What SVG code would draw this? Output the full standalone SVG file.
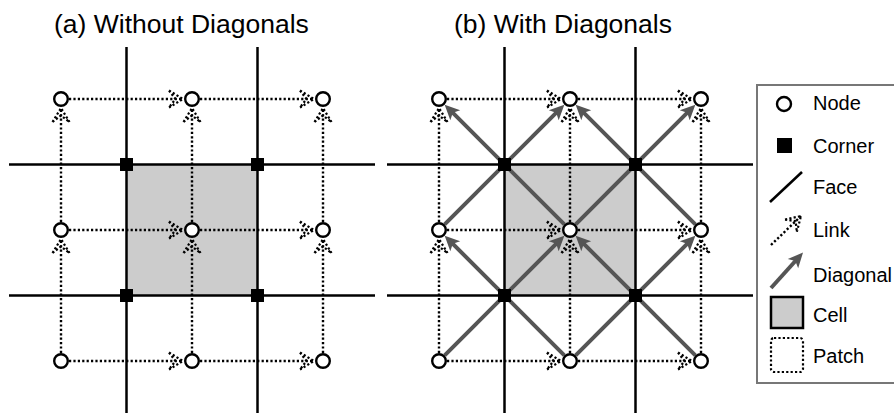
<svg xmlns="http://www.w3.org/2000/svg" width="894" height="413" viewBox="0 0 894 413">
<style>
.title{font-family:"Liberation Sans",Arial,sans-serif;font-size:26.5px;fill:#000}
.lt{font-family:"Liberation Sans",Arial,sans-serif;font-size:20px;fill:#000}
.face{stroke:#000;stroke-width:2.5;fill:none}
.cell{fill:#cccccc;stroke:none}
.link{stroke:#000;stroke-width:2.4;stroke-dasharray:2.2 2.2;fill:none}
.diag{stroke:#555;stroke-width:4;fill:none}
.node{fill:#fff;stroke:#000;stroke-width:2.4}
.corner{fill:#000}
</style>
<defs>
<marker id="lk" viewBox="-16 -11 18 22" markerWidth="18" markerHeight="22" refX="0" refY="0" orient="auto" markerUnits="userSpaceOnUse">
<path d="M-14,-8.5 L0,0 L-14,8.5 M-14,-8.5 L-7.5,0 L-14,8.5" stroke="#000" stroke-width="2.2" stroke-dasharray="2.2 2.2" fill="none"/>
</marker>
<marker id="dg" viewBox="-10 -9 18 18" markerWidth="18" markerHeight="18" refX="0" refY="0" orient="auto" markerUnits="userSpaceOnUse">
<path d="M6,0 L-9,-7 L-5.5,0 L-9,7 Z" fill="#555"/>
</marker>
</defs>

<g id="titles">
<text class="title" x="54" y="33">(a) Without Diagonals</text>
<text class="title" x="454" y="33">(b) With Diagonals</text>
</g>

<g id="cells">
<rect id="cell-a" class="cell" x="126.5" y="164.5" width="131" height="131"/>
<rect id="cell-b" class="cell" x="504.5" y="164.5" width="131" height="131"/>
</g>

<g id="faces">
<line class="face" x1="126.5" y1="47" x2="126.5" y2="413"/>
<line class="face" x1="257.5" y1="47" x2="257.5" y2="413"/>
<line class="face" x1="9" y1="164.5" x2="375" y2="164.5"/>
<line class="face" x1="9" y1="295.5" x2="375" y2="295.5"/>
<line class="face" x1="504.5" y1="47" x2="504.5" y2="413"/>
<line class="face" x1="635.5" y1="47" x2="635.5" y2="413"/>
<line class="face" x1="387" y1="164.5" x2="753" y2="164.5"/>
<line class="face" x1="387" y1="295.5" x2="753" y2="295.5"/>
</g>

<g id="connectors">
<g id="links-a" marker-end="url(#lk)">
<path class="link" d="M69,99 L183,99"/>
<path class="link" d="M200,99 L314,99"/>
<path class="link" d="M69,230 L183,230"/>
<path class="link" d="M200,230 L314,230"/>
<path class="link" d="M69,361 L183,361"/>
<path class="link" d="M200,361 L314,361"/>
<path class="link" d="M61,353 L61,239"/>
<path class="link" d="M61,222 L61,108"/>
<path class="link" d="M192,353 L192,239"/>
<path class="link" d="M192,222 L192,108"/>
<path class="link" d="M323,353 L323,239"/>
<path class="link" d="M323,222 L323,108"/>
</g>
<g id="links-b" marker-end="url(#lk)">
<path class="link" d="M447,99 L561,99"/>
<path class="link" d="M578,99 L692,99"/>
<path class="link" d="M447,230 L561,230"/>
<path class="link" d="M578,230 L692,230"/>
<path class="link" d="M447,361 L561,361"/>
<path class="link" d="M578,361 L692,361"/>
<path class="link" d="M439,353 L439,239"/>
<path class="link" d="M439,222 L439,108"/>
<path class="link" d="M570,353 L570,239"/>
<path class="link" d="M570,222 L570,108"/>
<path class="link" d="M701,353 L701,239"/>
<path class="link" d="M701,222 L701,108"/>
</g>
<g id="diagonals-b" marker-end="url(#dg)">
<path class="diag" d="M444.66,355.34 L560.1,239.9"/>
<path class="diag" d="M564.34,355.34 L448.9,239.9"/>
<path class="diag" d="M575.66,355.34 L691.1,239.9"/>
<path class="diag" d="M695.34,355.34 L579.9,239.9"/>
<path class="diag" d="M444.66,224.34 L560.1,108.9"/>
<path class="diag" d="M564.34,224.34 L448.9,108.9"/>
<path class="diag" d="M575.66,224.34 L691.1,108.9"/>
<path class="diag" d="M695.34,224.34 L579.9,108.9"/>
</g>
</g>

<g id="corners">
<rect class="corner" x="120" y="158" width="13" height="13"/>
<rect class="corner" x="251" y="158" width="13" height="13"/>
<rect class="corner" x="120" y="289" width="13" height="13"/>
<rect class="corner" x="251" y="289" width="13" height="13"/>
<rect class="corner" x="498" y="158" width="13" height="13"/>
<rect class="corner" x="629" y="158" width="13" height="13"/>
<rect class="corner" x="498" y="289" width="13" height="13"/>
<rect class="corner" x="629" y="289" width="13" height="13"/>
</g>

<g id="nodes">
<circle id="a-n00" class="node" cx="61" cy="99" r="6.8"/>
<circle id="a-n01" class="node" cx="192" cy="99" r="6.8"/>
<circle id="a-n02" class="node" cx="323" cy="99" r="6.8"/>
<circle id="a-n10" class="node" cx="61" cy="230" r="6.8"/>
<circle id="a-n11" class="node" cx="192" cy="230" r="6.8"/>
<circle id="a-n12" class="node" cx="323" cy="230" r="6.8"/>
<circle id="a-n20" class="node" cx="61" cy="361" r="6.8"/>
<circle id="a-n21" class="node" cx="192" cy="361" r="6.8"/>
<circle id="a-n22" class="node" cx="323" cy="361" r="6.8"/>
<circle id="b-n00" class="node" cx="439" cy="99" r="6.8"/>
<circle id="b-n01" class="node" cx="570" cy="99" r="6.8"/>
<circle id="b-n02" class="node" cx="701" cy="99" r="6.8"/>
<circle id="b-n10" class="node" cx="439" cy="230" r="6.8"/>
<circle id="b-n11" class="node" cx="570" cy="230" r="6.8"/>
<circle id="b-n12" class="node" cx="701" cy="230" r="6.8"/>
<circle id="b-n20" class="node" cx="439" cy="361" r="6.8"/>
<circle id="b-n21" class="node" cx="570" cy="361" r="6.8"/>
<circle id="b-n22" class="node" cx="701" cy="361" r="6.8"/>
</g>

<g id="legend">
<rect x="757" y="85" width="150" height="298" fill="#fff" stroke="#777" stroke-width="2"/>
<circle class="node" cx="784" cy="104" r="7"/>
<text class="lt" x="813" y="110">Node</text>
<rect class="corner" x="777" y="138" width="15" height="15"/>
<text class="lt" x="813" y="153">Corner</text>
<line class="face" x1="770" y1="202" x2="802" y2="172"/>
<text class="lt" x="813" y="194">Face</text>
<path class="link" d="M771,245 L801,216" marker-end="url(#lk)"/>
<text class="lt" x="813" y="237">Link</text>
<path class="diag" d="M771,288 L799,257" marker-end="url(#dg)"/>
<text class="lt" x="813" y="282">Diagonal</text>
<rect x="771" y="297" width="32" height="31" fill="#cccccc" stroke="#000" stroke-width="2.5"/>
<text class="lt" x="813" y="322">Cell</text>
<rect x="771" y="338" width="32" height="34" rx="3" fill="none" stroke="#000" stroke-width="2.2" stroke-dasharray="2.2 2.2"/>
<text class="lt" x="813" y="363">Patch</text>
</g>
</svg>
